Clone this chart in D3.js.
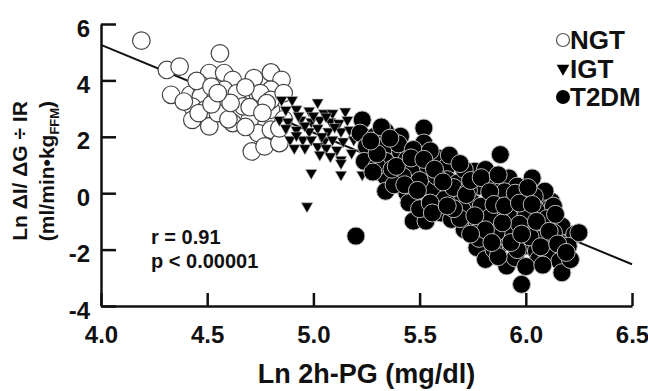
<!DOCTYPE html>
<html>
<head>
<meta charset="utf-8">
<script src="https://cdnjs.cloudflare.com/ajax/libs/d3/7.8.5/d3.min.js"></script>
<style>
  body { margin: 0; background: #fff; }
  svg { display: block; }
  text { font-family: "Liberation Sans", Arial, sans-serif; font-weight: bold; fill: #111; }
</style>
</head>
<body>
<svg id="chart"></svg>
<script>
// values: [Ln 2h-PG, Ln dI/dG / IR]
const ngtPoints = [
  [4.19,5.41],[4.56,4.96],[4.31,4.37],[4.37,4.49],[4.51,4.26],[4.58,4.26],[4.62,4.02],[4.72,4.08],
  [4.80,4.28],[4.85,4.02],[4.33,3.49],[4.42,3.49],[4.47,3.84],[4.47,3.43],[4.54,3.37],[4.58,3.67],
  [4.64,3.37],[4.74,3.43],[4.80,3.67],[4.43,3.07],[4.49,2.96],[4.57,3.02],[4.66,2.84],[4.70,2.60],
  [4.80,2.96],[4.43,2.60],[4.51,2.37],[4.62,2.49],[4.74,2.13],[4.80,2.25],[4.71,1.48],[4.77,1.66],
  [4.84,1.78],[4.45,3.98],[4.52,3.78],[4.64,3.55],[4.67,3.08],[4.75,3.55],[4.80,3.31],[4.55,2.84],
  [4.46,2.84],[4.68,3.75],[4.78,3.19],[4.86,3.55],[4.60,2.62],[4.86,2.62],[4.84,2.30],[4.52,3.15],
  [4.61,3.20],[4.70,3.05],[4.55,3.55],[4.39,3.25],[4.68,2.35],[4.76,2.85]
];
const igtPoints = [
  [4.85,3.31],[4.90,3.31],[4.87,2.96],[4.92,2.98],[4.98,2.93],[5.02,3.22],[5.05,2.84],[5.09,2.84],
  [5.15,2.90],[4.84,2.60],[4.88,2.54],[4.94,2.60],[4.99,2.54],[5.03,2.60],[5.08,2.54],[5.12,2.49],
  [5.16,2.60],[4.87,2.31],[4.92,2.25],[4.98,2.19],[5.02,2.31],[5.07,2.19],[5.13,2.19],[5.17,2.25],
  [4.89,1.90],[4.95,1.90],[4.99,1.90],[5.05,1.84],[5.09,1.90],[5.14,1.84],[5.19,1.90],[4.91,1.60],
  [4.96,1.60],[5.02,1.66],[5.06,1.60],[5.11,1.54],[5.03,1.37],[5.08,1.31],[5.13,1.19],[4.99,0.72],
  [5.13,0.66],[5.23,0.66],[4.97,-0.46],[5.13,1.07],[5.24,1.48],[5.18,1.43],[4.93,2.75],[5.00,2.75],
  [5.06,2.72],[4.96,2.40],[5.10,2.35],[5.04,2.02],[4.92,2.05]
];
const t2dmPoints = [
  [5.23,2.60],[5.22,2.13],[5.25,1.66],[5.24,1.13],[5.29,2.02],[5.34,2.19],[5.34,1.66],[5.34,1.13],
  [5.34,0.60],[5.34,0.07],[5.41,2.02],[5.41,1.48],[5.44,1.19],[5.47,0.90],[5.42,0.60],[5.44,0.01],
  [5.45,-0.34],[5.47,-0.99],[5.53,-0.99],[5.52,2.31],[5.52,1.78],[5.54,0.95],[5.56,0.19],[5.59,1.25],
  [5.63,0.95],[5.60,-0.70],[5.65,-0.93],[5.63,0.48],[5.67,-0.23],[5.20,-1.52],[5.88,1.37],[5.72,0.66],
  [5.76,0.78],[5.81,0.84],[5.92,0.54],[6.03,0.54],[5.64,0.13],[5.68,0.36],[5.78,0.25],[5.84,0.31],
  [5.86,-0.11],[5.93,-0.23],[5.99,-0.58],[6.08,-0.58],[6.12,-0.29],[6.06,-0.05],[5.71,-1.29],[5.77,-1.17],
  [5.82,-0.93],[5.88,-0.70],[5.91,-1.29],[6.03,-1.17],[6.17,-1.17],[6.23,-1.46],[5.77,-1.93],[5.81,-2.35],
  [5.89,-1.76],[5.91,-2.58],[5.95,-2.29],[5.99,-1.88],[6.05,-2.05],[6.06,-2.35],[6.10,-2.11],[6.16,-2.41],
  [6.17,-2.82],[6.20,-1.88],[5.98,-3.23],[5.75,-0.34],[5.80,-0.52],[5.70,-0.58],[5.96,0.25],[6.02,-0.11],
  [5.30,0.95],[5.30,1.40],[5.71,0.84],[5.79,-0.46],[6.09,0.07],[6.13,-0.46],[6.13,-1.40],[6.07,-1.64],
  [6.25,-1.40],[6.21,-2.35],[5.94,-1.40],[5.86,-1.40],[5.83,-0.87],[5.92,-0.82],[6.00,-0.82],[6.04,-0.11],
  [5.90,0.05],[5.97,-1.10],[6.10,-0.90],[5.62,-0.20],[5.50,0.45],[5.58,0.60],[5.38,0.30],[5.40,1.75],
  [5.47,1.55],[5.37,0.85],[5.55,1.50],[5.66,0.20],[5.73,0.10],[5.69,-0.90],[5.85,-2.00],[5.78,-1.60],
  [6.02,-1.55],[5.96,-2.00],[6.00,-2.60],[5.87,-2.25],[5.27,1.85],[5.32,2.35],[5.28,0.75],[5.36,1.95],
  [5.39,0.95],[5.43,0.30],[5.46,1.25],[5.49,0.10],[5.50,-0.55],[5.52,1.20],[5.55,-0.35],[5.57,0.85],
  [5.61,0.40],[5.64,1.35],[5.66,-0.55],[5.69,1.05],[5.72,-0.05],[5.74,0.45],[5.76,-0.80],[5.79,0.55],
  [5.81,-1.30],[5.83,0.05],[5.85,-0.40],[5.87,0.65],[5.89,-1.05],[5.90,-0.45],[5.93,-1.75],[5.95,0.00],
  [5.97,-0.35],[5.98,-1.45],[6.01,0.20],[6.03,-0.40],[6.05,-1.00],[6.07,-1.90],[6.11,-1.35],[6.14,-0.75],
  [6.15,-1.80],[6.19,-2.10],[6.08,-2.55],[5.84,-1.75],[5.74,-1.45],[5.56,-0.70],[5.63,-0.45]
];
// regression line end points
const fitX = [4.0, 6.5];
const fitY = [5.26, -2.52];

const xTicks = [4.0, 4.5, 5.0, 5.5, 6.0, 6.5];
const yTicks = [-4, -2, 0, 2, 4, 6];
const legendLabels = ["NGT", "IGT", "T2DM"];
const statLines = ["r = 0.91", "p < 0.00001"];

const width = 648, height = 391;
const svg = d3.select("#chart").attr("width", width).attr("height", height);

const x = d3.scaleLinear().domain([4.0, 6.5]).range([101, 632]);
const y = d3.scaleLinear().domain([-4, 6]).range([306, 24]);

// axes
const yAxis = svg.append("g")
  .attr("transform", `translate(${x(4.0)},0)`)
  .call(d3.axisLeft(y).tickValues(yTicks).tickSizeInner(-15).tickSizeOuter(0)
    .tickPadding(11).tickFormat(d => String(d)));
const xAxis = svg.append("g")
  .attr("transform", `translate(0,${y(-4)})`)
  .call(d3.axisBottom(x).tickValues(xTicks).tickSizeInner(-13).tickSizeOuter(0)
    .tickPadding(20).tickFormat(d3.format(".1f")));

[yAxis, xAxis].forEach(g => {
  g.select(".domain").attr("stroke", "#111").attr("stroke-width", 2.5);
  g.selectAll(".tick line").attr("stroke", "#111").attr("stroke-width", 2.5);
  g.selectAll(".tick text").attr("fill", "#111").style("font-size", "24px");
});
yAxis.selectAll(".tick text").attr("dy", "0.5em");

// regression line
svg.append("path")
  .datum(d3.zip(fitX, fitY))
  .attr("fill", "none")
  .attr("stroke", "#111")
  .attr("stroke-width", 2)
  .attr("d", d3.line().x(d => x(d[0])).y(d => y(d[1])));

const tri = d3.symbol().type(d3.symbolTriangle).size(58);

svg.append("g").selectAll("circle")
  .data(ngtPoints).enter().append("circle")
  .attr("cx", d => x(d[0])).attr("cy", d => y(d[1])).attr("r", 8.8)
  .attr("fill", "#fff").attr("stroke", "#444").attr("stroke-width", 1.2);

svg.append("g").selectAll("path")
  .data(igtPoints).enter().append("path")
  .attr("transform", d => `translate(${x(d[0])},${y(d[1])}) rotate(180)`)
  .attr("d", tri)
  .attr("fill", "#000").attr("stroke", "#bbb").attr("stroke-width", 0.6);

svg.append("g").selectAll("circle")
  .data(t2dmPoints).enter().append("circle")
  .attr("cx", d => x(d[0])).attr("cy", d => y(d[1])).attr("r", 9)
  .attr("fill", "#000").attr("stroke", "#bbb").attr("stroke-width", 1);

// stats text
svg.append("g").selectAll("text")
  .data(statLines).enter().append("text")
  .attr("x", 151).attr("y", (d, i) => 244 + i * 24)
  .style("font-size", "20px")
  .text(d => d);

// legend
const legend = svg.append("g").attr("transform", "translate(563,40)");
const rows = legend.selectAll("g").data(legendLabels).enter().append("g")
  .attr("transform", (d, i) => `translate(0,${i * 28.5})`);
rows.each(function (d, i) {
  const g = d3.select(this);
  if (i === 0) g.append("circle").attr("r", 6.5).attr("fill", "#fff").attr("stroke", "#555").attr("stroke-width", 1.2);
  if (i === 1) g.append("path").attr("d", d3.symbol().type(d3.symbolTriangle).size(70)).attr("transform", "rotate(180)").attr("fill", "#000");
  if (i === 2) g.append("circle").attr("r", 7).attr("fill", "#000");
});
rows.append("text").attr("x", 7).attr("dy", "0.36em").style("font-size", "26px").text(d => d);

// axis titles
svg.append("text")
  .attr("x", (x(4.0) + x(6.5)) / 2).attr("y", 383)
  .attr("text-anchor", "middle").style("font-size", "27px")
  .text("Ln 2h-PG (mg/dl)");

const yt = svg.append("text")
  .attr("transform", `translate(27,171) rotate(-90)`)
  .attr("text-anchor", "middle").style("font-size", "21px");
yt.append("tspan").attr("x", 0).attr("y", 0).text("Ln \u0394I/ \u0394G \u00f7 IR");
yt.append("tspan").attr("x", 0).attr("y", 27).text("(ml/min\u2022kg");
yt.append("tspan").attr("dy", 5).style("font-size", "13px").text("FFM");
yt.append("tspan").attr("dy", -5).text(")");
</script>
</body>
</html>
